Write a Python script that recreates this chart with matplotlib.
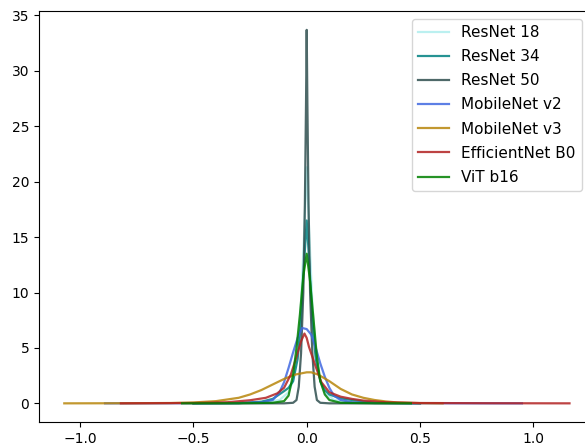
import matplotlib
matplotlib.use("Agg")
import matplotlib.pyplot as plt

# density curves (x = weight value, y = density)
r18_x = [-0.5, -0.2, -0.12, -0.08, -0.06, -0.04, -0.025, -0.012, 0, 0.012, 0.025, 0.04, 0.06, 0.08, 0.12, 0.2, 0.5]
r18_y = [0, 0.05, 0.3, 1.0, 2.0, 4.5, 9, 15, 21.3, 15, 9, 4.5, 2.0, 1.0, 0.3, 0.05, 0]

r34_x = [-0.5, -0.3, -0.2, -0.15, -0.1, -0.08, -0.06, -0.04, -0.025, -0.012, 0, 0.012, 0.025, 0.04, 0.06, 0.08, 0.1, 0.15, 0.2, 0.3, 0.5]
r34_y = [0, 0.02, 0.15, 0.4, 1.1, 1.4, 2.0, 4.0, 7.5, 12.5, 16.5, 12.5, 7.5, 4.0, 2.0, 1.2, 0.8, 0.45, 0.3, 0.05, 0]

r50_x = [-0.5, -0.1, -0.06, -0.045, -0.035, -0.025, -0.015, -0.008, -0.003, 0, 0.003, 0.008, 0.015, 0.025, 0.035, 0.045, 0.06, 0.1, 0.5]
r50_y = [0, 0, 0.05, 0.3, 1.5, 4.5, 10, 18, 27, 33.7, 27, 18, 10, 4.5, 1.5, 0.3, 0.05, 0, 0]

mv2_x = [-0.89, -0.5, -0.3, -0.2, -0.15, -0.12, -0.1, -0.08, -0.06, -0.04, -0.02, 0, 0.02, 0.04, 0.06, 0.08, 0.1, 0.12, 0.15, 0.2, 0.3, 0.5, 0.95]
mv2_y = [0, 0.01, 0.03, 0.1, 0.3, 1.0, 1.9, 3.2, 4.6, 5.9, 6.8, 6.7, 6.2, 5.0, 3.6, 2.4, 1.4, 0.7, 0.3, 0.1, 0.03, 0.01, 0]

mv3_x = [-1.07, -0.8, -0.6, -0.5, -0.4, -0.3, -0.25, -0.2, -0.15, -0.1, -0.05, 0, 0.02, 0.05, 0.1, 0.15, 0.2, 0.25, 0.3, 0.35, 0.4, 0.5, 0.6]
mv3_y = [0, 0.01, 0.03, 0.08, 0.2, 0.5, 0.8, 1.2, 1.7, 2.2, 2.6, 2.8, 2.8, 2.6, 2.0, 1.3, 0.8, 0.5, 0.3, 0.17, 0.08, 0.02, 0]

eb0_x = [-0.82, -0.5, -0.35, -0.25, -0.18, -0.13, -0.1, -0.07, -0.045, -0.025, -0.01, 0, 0.01, 0.025, 0.04, 0.065, 0.1, 0.15, 0.2, 0.25, 0.35, 0.5, 0.8, 1.16]
eb0_y = [0, 0.03, 0.1, 0.28, 0.5, 0.9, 1.4, 2.6, 4.2, 5.6, 6.3, 5.9, 5.1, 4.2, 3.3, 1.9, 1.0, 0.6, 0.4, 0.25, 0.1, 0.03, 0.01, 0]

vit_x = [-0.55, -0.3, -0.15, -0.1, -0.08, -0.06, -0.045, -0.03, -0.015, 0, 0.015, 0.03, 0.045, 0.06, 0.08, 0.1, 0.15, 0.3, 0.46]
vit_y = [0, 0.01, 0.05, 0.2, 0.7, 2.6, 5.0, 8.0, 11.5, 13.5, 11.0, 7.6, 4.2, 2.0, 0.8, 0.3, 0.05, 0.01, 0]

series = [
    ("ResNet 18", r18_x, r18_y, "paleturquoise"),
    ("ResNet 34", r34_x, r34_y, "teal"),
    ("ResNet 50", r50_x, r50_y, "darkslategray"),
    ("MobileNet v2", mv2_x, mv2_y, "royalblue"),
    ("MobileNet v3", mv3_x, mv3_y, "darkgoldenrod"),
    ("EfficientNet B0", eb0_x, eb0_y, "firebrick"),
    ("ViT b16", vit_x, vit_y, "green"),
]

fig = plt.figure(figsize=(5.85, 4.48), dpi=100)
ax = fig.add_axes([0.0667, 0.058, 0.950, 0.917])

for name, xs, ys, col in series:
    ax.plot(xs, ys, color=col, label=name, linewidth=1.6, alpha=0.85)

ax.legend(loc="upper right", fontsize=11, labelspacing=0.6, bbox_to_anchor=(0.99, 1.0))
fig.savefig("out.png", dpi=100)
plt.close(fig)
